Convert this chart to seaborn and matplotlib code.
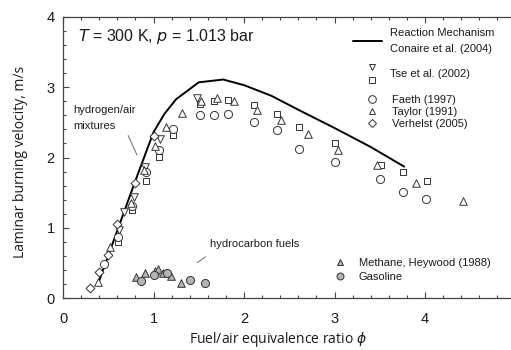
import numpy as np
import pandas as pd
import matplotlib
matplotlib.use("Agg")
import matplotlib.pyplot as plt
from matplotlib.lines import Line2D
from matplotlib.legend_handler import HandlerBase
from matplotlib.ticker import MultipleLocator
import seaborn as sns

# ---------------- data ----------------
mech_x = [0.39, 0.6, 0.8, 1.0, 1.12, 1.25, 1.5, 1.77, 2.0, 2.3, 2.63, 3.0, 3.4, 3.77]
mech_y = [0.21, 0.96, 1.67, 2.36, 2.62, 2.83, 3.07, 3.11, 3.03, 2.88, 2.66, 2.42, 2.15, 1.87]

tse_v_x = [0.62, 0.67, 0.78, 0.91, 1.07, 1.48]
tse_v_y = [0.97, 1.23, 1.44, 1.86, 2.27, 2.85]

tse_s_x = [0.61, 0.76, 0.92, 1.06, 1.21, 1.51, 1.67, 1.82, 2.11, 2.36, 2.61, 3.0, 3.51, 3.76, 4.02]
tse_s_y = [0.80, 1.25, 1.67, 2.01, 2.32, 2.76, 2.80, 2.82, 2.75, 2.62, 2.44, 2.20, 1.90, 1.80, 1.66]

faeth_x = [0.45, 0.61, 0.76, 0.92, 1.06, 1.22, 1.51, 1.67, 1.82, 2.11, 2.36, 2.61, 3.0, 3.5, 3.76, 4.01]
faeth_y = [0.49, 0.87, 1.31, 1.80, 2.11, 2.40, 2.61, 2.60, 2.62, 2.51, 2.39, 2.12, 1.93, 1.70, 1.51, 1.41]

taylor_x = [0.39, 0.52, 0.75, 0.89, 1.02, 1.14, 1.31, 1.53, 1.70, 1.89, 2.14, 2.41, 2.71, 3.04, 3.47, 3.90, 4.42]
taylor_y = [0.23, 0.73, 1.35, 1.82, 2.16, 2.44, 2.64, 2.80, 2.85, 2.80, 2.68, 2.53, 2.34, 2.11, 1.89, 1.63, 1.38]

verhelst_x = [0.30, 0.40, 0.50, 0.60, 0.80, 1.00]
verhelst_y = [0.14, 0.37, 0.61, 1.05, 1.64, 2.31]

methane_x = [0.81, 0.91, 1.02, 1.05, 1.11, 1.19, 1.30]
methane_y = [0.30, 0.35, 0.38, 0.41, 0.35, 0.32, 0.22]

gasoline_x = [0.86, 1.01, 1.15, 1.40, 1.57]
gasoline_y = [0.24, 0.33, 0.36, 0.26, 0.21]

x_ticks = [0, 1, 2, 3, 4]
y_ticks = [0, 1, 2, 3, 4]

# ---------------- style ----------------
sns.set_style("ticks")
plt.rcParams["font.family"] = ["Liberation Sans", "DejaVu Sans"]
plt.rcParams["mathtext.fontset"] = "dejavusans"

EDGE = "#333333"
HC_FILL = "#b9b2b2"

fig = plt.figure(figsize=(5.11, 3.5), dpi=100)
ax = fig.add_axes([63 / 511, 1 - 298 / 350, 452.5 / 511, 281 / 350])

mech_df = pd.DataFrame({"phi": mech_x, "S": mech_y})
sns.lineplot(data=mech_df, x="phi", y="S", ax=ax, color="black", lw=1.4, sort=False)

series = [
    (tse_v_x, tse_v_y, "v", "white"),
    (tse_s_x, tse_s_y, "s", "white"),
    (faeth_x, faeth_y, "o", "white"),
    (taylor_x, taylor_y, "^", "white"),
    (verhelst_x, verhelst_y, "D", "white"),
    (methane_x, methane_y, "^", HC_FILL),
    (gasoline_x, gasoline_y, "o", HC_FILL),
]
sizes = {"v": 30, "s": 24, "o": 34, "^": 30, "D": 20}
for xs, ys, m, fc in series:
    df = pd.DataFrame({"phi": xs, "S": ys})
    sns.scatterplot(data=df, x="phi", y="S", ax=ax, marker=m, s=sizes[m],
                    color=fc, edgecolor=EDGE, linewidth=0.7, zorder=3)

ax.set_xlim(0, 5)
ax.set_ylim(0, 4)
ax.set_xticks(x_ticks)
ax.set_yticks(y_ticks)
ax.xaxis.set_minor_locator(MultipleLocator(0.2))
ax.yaxis.set_minor_locator(MultipleLocator(0.2))
ax.tick_params(which="both", direction="in", top=True, right=False, colors="#444444",
               labelcolor="#1a1a1a", width=0.8)
ax.tick_params(which="major", length=4.5, labelsize=10.5)
ax.tick_params(axis="x", which="major", pad=10)
ax.tick_params(axis="y", which="major", pad=6)
ax.tick_params(which="minor", length=2.5)
for sp in ["left", "bottom", "top"]:
    ax.spines[sp].set_color("#444444")
    ax.spines[sp].set_linewidth(0.9)
ax.spines["right"].set_visible(False)

ax.set_xlabel(r"Fuel/air equivalence ratio $\phi$", family=["Open Sans", "DejaVu Sans"],
              fontsize=10, color="#1a1a1a")
ax.set_ylabel("Laminar burning velocity, m/s", family=["Open Sans", "DejaVu Sans"],
              fontsize=10, color="#1a1a1a")
ax.xaxis.set_label_coords((277.5 - 63) / 452.5, (298 - 330) / 281)
ax.yaxis.set_label_coords((28 - 63) / 452.5, (298 - 161.5) / 281)

# annotations
ax.text(0.033, (298 - 37) / 281, r"$T$ = 300 K, $p$ = 1.013 bar", transform=ax.transAxes,
        fontsize=11.5, va="center", ha="left", color="#1a1a1a")
ax.text(0.11, 2.56, "hydrogen/air\nmixtures", fontsize=8, va="center", ha="left",
        linespacing=1.7, color="#1a1a1a")
ax.annotate("", xy=(0.83, 2.0), xytext=(0.707, 2.35),
            arrowprops=dict(arrowstyle="-", color="#555555", lw=0.6))
ax.text(1.62, 0.77, "hydrocarbon fuels", fontsize=8, va="center", ha="left", color="#1a1a1a")
ax.annotate("", xy=(1.46, 0.48), xytext=(1.60, 0.61),
            arrowprops=dict(arrowstyle="-", color="#555555", lw=0.6))


# ---------------- legends ----------------
class HandlerStack(HandlerBase):
    def create_artists(self, legend, orig_handle, xdescent, ydescent, width, height,
                       fontsize, trans):
        arts = []
        offs = [5.0, -5.0]
        for h, off in zip(orig_handle, offs):
            ln = Line2D([width / 2 - xdescent], [height / 2 - ydescent + off],
                        marker=h.get_marker(), ms=h.get_markersize(),
                        mfc=h.get_markerfacecolor(), mec=h.get_markeredgecolor(),
                        mew=h.get_markeredgewidth(), ls="")
            ln.set_transform(trans)
            arts.append(ln)
        return arts


def mk(marker, fc, ms=5):
    return Line2D([], [], marker=marker, ls="", ms=ms, mfc=fc, mec=EDGE, mew=0.7)


common = dict(frameon=False, fontsize=8, borderpad=0, borderaxespad=0,
              labelcolor="#1a1a1a")

leg1 = ax.legend([Line2D([], [], color="black", lw=1.4)],
                 ["Reaction Mechanism\nConaire et al. (2004)"],
                 loc="center left", bbox_to_anchor=((353 - 63) / 452.5, (298 - 41) / 281),
                 handlelength=2.6, handletextpad=0.7, **common)
for t in leg1.get_texts():
    t.set_linespacing(1.7)
ax.add_artist(leg1)

leg2 = ax.legend([(mk("v", "white"), mk("s", "white", 4.5))], ["Tse et al. (2002)"],
                 handler_map={tuple: HandlerStack()},
                 loc="center left", bbox_to_anchor=((366.5 - 63) / 452.5, (298 - 73.5) / 281),
                 handlelength=1.0, handleheight=2.0, handletextpad=1.1, **common)
ax.add_artist(leg2)

leg3 = ax.legend([mk("o", "white", 5.5), mk("^", "white"), mk("D", "white", 4.3)],
                 ["Faeth (1997)", "Taylor (1991)", "Verhelst (2005)"],
                 loc="center left", bbox_to_anchor=((366.5 - 63) / 452.5, (298 - 112) / 281),
                 handlelength=1.0, handletextpad=1.3, labelspacing=0.2, **common)
ax.add_artist(leg3)

leg4 = ax.legend([mk("^", HC_FILL), mk("o", HC_FILL)],
                 ["Methane, Heywood (1988)", "Gasoline"],
                 loc="center left", bbox_to_anchor=((334.5 - 63) / 452.5, (298 - 270) / 281),
                 handlelength=1.0, handletextpad=1.2, labelspacing=0.35, **common)

fig.savefig("out.png", dpi=100)
